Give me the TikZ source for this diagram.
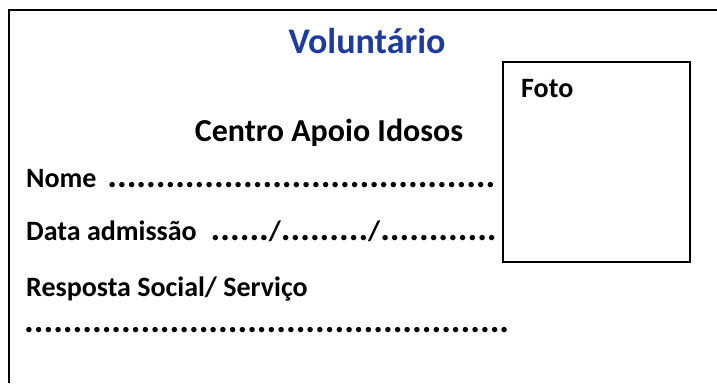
\documentclass[tikz,border=0pt]{standalone}
\usepackage{fontspec}
\setmainfont{Carlito}
\usepackage{tikz}
\usetikzlibrary{positioning}
\definecolor{azultitulo}{RGB}{30,60,160}
% leader dots, one every 9.7pt
\newcommand{\pontos}[1]{\leavevmode\cleaders\hbox to 9.7pt{\hss\scalebox{1.3}{.}\hss}\hskip #1\hbox{}}
\tikzset{
    texto/.style={font=\bfseries\fontsize{28}{34}\selectfont,inner sep=0pt,anchor=base west},
    texto centro/.style={font=\bfseries\fontsize{32}{38}\selectfont,inner sep=0pt,anchor=base},
    texto titulo/.style={font=\bfseries\fontsize{36}{42}\selectfont,inner sep=0pt,anchor=base,text=azultitulo},
    caixa foto/.style={draw,line width=1.6pt,minimum width=187pt,minimum height=200pt,anchor=north west,inner sep=0pt},
}

\begin{document}
\begin{tikzpicture}[x=1pt,y=-1pt]
\useasboundingbox (0,0) rectangle (717,383);
% frame of the card
\draw [line width=1.8pt] (717,10) -- (9,10) -- (9,383);
\node [texto titulo] (titulo) at (367,53) {Voluntário};
\node [caixa foto] (foto) at (502,61) {};
\node [texto] (fotolabel) at (521,97) {Foto};
\node [texto centro] (centro) at (329,141) {Centro Apoio Idosos};
% fields
\node [texto] (nome) at (26,187) {Nome \pontos{397pt}};
\node [texto] (data) at (26,240) {Data admissão\hspace{14pt}\pontos{58.2pt}/\pontos{87.3pt}/\pontos{116.4pt}};
\node [texto] (resposta) at (26,296) {Resposta Social/ Serviço};
\node [texto] (linha) at (24,332) {\pontos{485pt}};
\end{tikzpicture}
\end{document}
